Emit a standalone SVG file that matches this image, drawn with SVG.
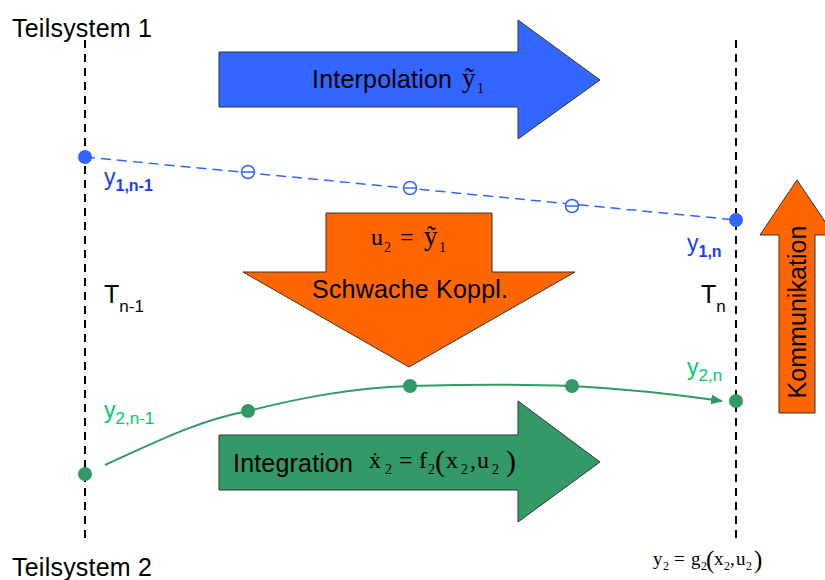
<svg xmlns="http://www.w3.org/2000/svg" width="825" height="580" viewBox="0 0 825 580">
  <style>
    .sans { font-family: "Liberation Sans", Arial, sans-serif; }
    .serif { font-family: "Liberation Serif", "Times New Roman", serif; }
    .time { stroke: #000; stroke-width: 2; stroke-dasharray: 8 6; fill: none; }
    .arrow { stroke: #333; stroke-width: 1; }
    .blue { fill: #3366ff; }
    .orange { fill: #ff6600; }
    .green { fill: #339966; }
    .lbl { font-size: 25px; fill: #000; }
    .sub { font-size: 14px; }
  </style>
  <defs>
    <marker id="ah" viewBox="0 0 12 10" refX="11" refY="5" markerWidth="12" markerHeight="10" markerUnits="userSpaceOnUse" orient="auto">
      <path d="M0,0 L12,5 L0,10 z" fill="#339966"/>
    </marker>
  </defs>
  <rect width="825" height="580" fill="#fff"/>

  <!-- subsystem titles -->
  <text class="sans lbl" x="12" y="37" textLength="140">Teilsystem 1</text>
  <text class="sans lbl" x="12" y="576" textLength="140">Teilsystem 2</text>

  <!-- time lines -->
  <g id="timelines">
    <line class="time" x1="85" y1="40" x2="85" y2="542"/>
    <line class="time" x1="736" y1="40" x2="736" y2="540"/>
  </g>

  <!-- interpolation arrow -->
  <g id="interpolation">
    <path class="blue arrow" d="M219,52 H518 V20 L600,80 L518,139 V107 H219 Z"/>
    <text class="sans lbl" x="312" y="88" textLength="140">Interpolation</text>
    <text class="serif" font-size="27"><tspan x="462" y="87">ỹ</tspan><tspan class="sub" x="477" y="93">1</tspan></text>
  </g>

  <!-- weak coupling arrow -->
  <g id="coupling">
    <path class="orange arrow" d="M326,213 H492 V272 H575 L409,367 L243,272 H326 Z"/>
    <text class="serif" font-size="24"><tspan x="371" y="245">u</tspan><tspan class="sub" x="384" y="252">2</tspan><tspan x="400" y="245">=</tspan><tspan font-size="27" x="424" y="245">ỹ</tspan><tspan class="sub" x="439" y="252">1</tspan></text>
    <text class="sans lbl" x="312" y="298" textLength="196">Schwache Koppl.</text>
  </g>

  <!-- integration arrow -->
  <g id="integration">
    <path class="green arrow" d="M219,435 H518 V401 L600,462 L518,522 V490 H219 Z"/>
    <text class="sans lbl" x="233" y="472" textLength="120">Integration</text>
    <text class="serif" font-size="24">
      <tspan x="369" y="468">ẋ</tspan><tspan class="sub" x="385" y="474">2</tspan>
      <tspan x="399" y="468">=</tspan>
      <tspan x="419" y="468">f</tspan><tspan class="sub" x="428" y="474">2</tspan>
      <tspan x="446" y="468">x</tspan><tspan class="sub" x="461" y="474">2</tspan>
      <tspan x="470" y="468">,</tspan>
      <tspan x="477" y="468">u</tspan><tspan class="sub" x="492" y="474">2</tspan>
    </text>
    <text class="serif" font-size="30"><tspan x="435" y="471">(</tspan><tspan x="506" y="471">)</tspan></text>
  </g>

  <!-- communication arrow -->
  <g id="communication">
    <path class="orange arrow" d="M779,413 V235 H760 L797,180 L834,235 H815 V413 Z"/>
    <text class="sans lbl" transform="translate(806,312) rotate(-90)" text-anchor="middle" textLength="173">Kommunikation</text>
  </g>

  <!-- connectors -->
  <g id="connectors">
    <line x1="85" y1="157" x2="736" y2="220" stroke="#3366ff" stroke-width="1.5" stroke-dasharray="10 6"/>
    <path d="M105,465 C160,440 200,420 248,411 C300,398 350,388 410,386 C480,384 520,384 572,386 C630,389 680,395 722,401" fill="none" stroke="#339966" stroke-width="2" marker-end="url(#ah)"/>
  </g>

  <!-- output 1 samples -->
  <g id="y1-points">
    <circle cx="85" cy="157" r="7" fill="#3366ff"/>
    <circle cx="736" cy="220" r="7" fill="#3366ff"/>
    <circle cx="248" cy="172" r="6.5" fill="#fff" stroke="#3366ff" stroke-width="1.5"/>
    <circle cx="410" cy="188" r="6.5" fill="#fff" stroke="#3366ff" stroke-width="1.5"/>
    <circle cx="572" cy="206" r="6.5" fill="#fff" stroke="#3366ff" stroke-width="1.5"/>
    <line x1="241" y1="172" x2="255" y2="172" stroke="#3366ff" stroke-width="1.5"/>
    <line x1="403" y1="188" x2="417" y2="188" stroke="#3366ff" stroke-width="1.5"/>
    <line x1="565" y1="206" x2="579" y2="206" stroke="#3366ff" stroke-width="1.5"/>
  </g>

  <!-- output 2 samples -->
  <g id="y2-points" fill="#339966">
    <circle cx="85" cy="474" r="7"/>
    <circle cx="248" cy="411" r="7"/>
    <circle cx="410" cy="386" r="7"/>
    <circle cx="572" cy="386" r="7"/>
    <circle cx="736" cy="401" r="7"/>
  </g>

  <!-- point labels -->
  <g id="labels" class="sans">
    <text x="104" y="185" font-size="23" fill="#1a3cff">y<tspan font-size="16" dy="6" font-weight="bold">1,n-1</tspan></text>
    <text x="687" y="251" font-size="23" fill="#1a3cff">y<tspan font-size="16" dy="6" font-weight="bold">1,n</tspan></text>
    <text x="104" y="418" font-size="23" fill="#00cc66">y<tspan font-size="17" dy="6">2,n-1</tspan></text>
    <text x="687" y="375" font-size="23" fill="#00cc66">y<tspan font-size="17" dy="6">2,n</tspan></text>
    <text x="104" y="303" font-size="25" fill="#000">T<tspan font-size="17" dy="9">n-1</tspan></text>
    <text x="701" y="303" font-size="25" fill="#000">T<tspan font-size="17" dy="9">n</tspan></text>
  </g>

  <!-- output equation of subsystem 2 -->
  <text class="serif" font-size="19">
    <tspan x="653" y="565">y</tspan><tspan font-size="12" x="663" y="570">2</tspan>
    <tspan x="674" y="565">=</tspan>
    <tspan x="691" y="565">g</tspan><tspan font-size="12" x="701" y="570">2</tspan>
    <tspan x="714" y="565">x</tspan><tspan font-size="12" x="724" y="570">2</tspan>
    <tspan x="730" y="565">,</tspan>
    <tspan x="736" y="565">u</tspan><tspan font-size="12" x="746" y="570">2</tspan>
  </text>
  <text class="serif" font-size="25"><tspan x="706" y="568">(</tspan><tspan x="754" y="568">)</tspan></text>
</svg>
